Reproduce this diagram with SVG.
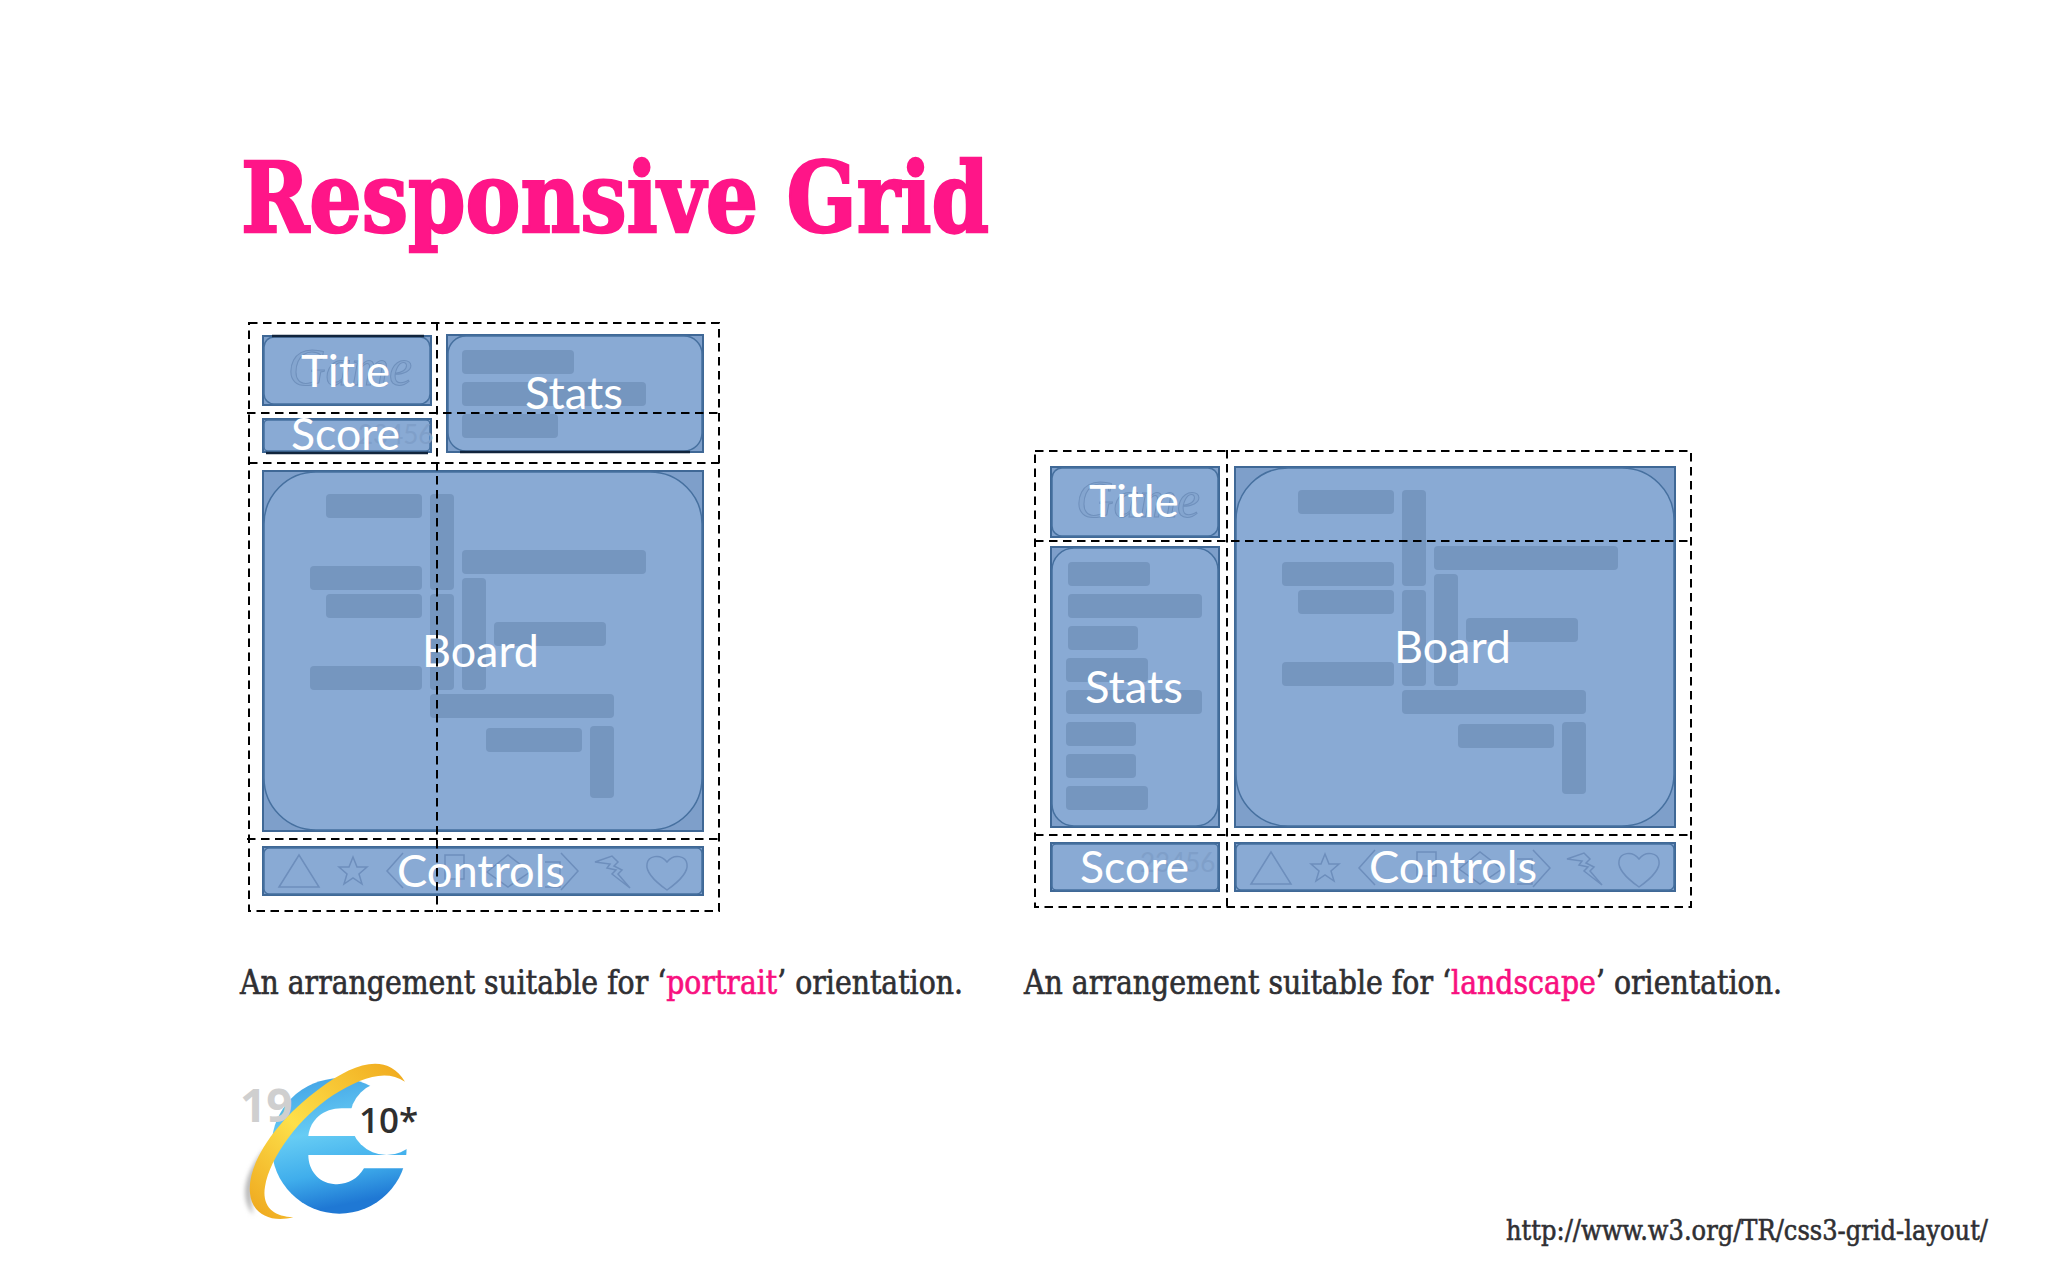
<svg xmlns="http://www.w3.org/2000/svg" width="2048" height="1280" viewBox="0 0 2048 1280">
<style>
.bg{fill:#fff}
.cell{fill:#7e9fca;stroke:#3f6896;stroke-width:2}
.in{fill:#89aad4;stroke:#46709f;stroke-width:1.5}
.bar{fill:#7596bf}
.lbl{font-family:Lato,"Open Sans",sans-serif;font-size:44px;fill:#fff}
.ghost{font-family:"Liberation Serif",serif;font-style:italic;font-size:52px;fill:#84a5cf;stroke:#6f90bc;stroke-width:1}
.ghost2{font-family:Lato,sans-serif;font-size:26px;fill:#7f9fc9}
.dash{fill:none;stroke:#000;stroke-width:2;stroke-dasharray:8.5 5.5}
.ico{fill:none;stroke:#6d8ebc;stroke-width:1.5}
.shade{stroke:#10243c;stroke-width:2.5}
.h{font-family:"DejaVu Serif",serif;font-weight:bold;font-size:98px;fill:#ff1588;stroke:#ff1588;stroke-width:2.5}
.cap{font-family:"DejaVu Serif",serif;font-size:34px;fill:#2f2f33;stroke:#2f2f33;stroke-width:.7}
.pk{fill:#f8107f;stroke:#f8107f}
.url{font-family:"DejaVu Serif",serif;font-size:27px;fill:#2f2f33;stroke:#2f2f33;stroke-width:.6}
</style>
<defs>
<g id="boardBars" class="bar">
<rect x="326" y="494" width="96" height="24" rx="4"/><rect x="430" y="494" width="24" height="96" rx="4"/>
<rect x="310" y="566" width="112" height="24" rx="4"/><rect x="462" y="550" width="184" height="24" rx="4"/>
<rect x="326" y="594" width="96" height="24" rx="4"/><rect x="430" y="594" width="24" height="96" rx="4"/>
<rect x="462" y="578" width="24" height="112" rx="4"/><rect x="494" y="622" width="112" height="24" rx="4"/>
<rect x="310" y="666" width="112" height="24" rx="4"/><rect x="430" y="694" width="184" height="24" rx="4"/>
<rect x="486" y="728" width="96" height="24" rx="4"/><rect x="590" y="726" width="24" height="72" rx="4"/>
</g>
<g id="icons" class="ico">
<path d="M279 887L299 855L319 887Z"/>
<path d="M353 857l4 10h10l-8 7 3 10-9-6-9 6 3-10-8-7h10z"/>
<path d="M403 853L387 871L403 888"/>
<path d="M445 855h19v24h-19z"/>
<path d="M487 872L508 855L530 872L508 887Z"/>
<path d="M561 853L578 871L561 890M545 862h15v25h-15"/>
<path d="M595 862L612 856L618 862L614 866L622 870L618 874L630 888L612 874L616 870L607 868L610 864Z"/>
<path d="M667 890C650 878 646 870 647 864C648 856 660 853 667 862C674 853 686 856 687 864C688 870 684 878 667 890Z"/>
</g>
<linearGradient id="eBlue" x1="0" y1="0" x2="0.2" y2="1">
<stop offset="0" stop-color="#3f9fe4"/><stop offset=".45" stop-color="#66ccf4"/><stop offset=".75" stop-color="#40aeec"/><stop offset="1" stop-color="#1f78d4"/>
</linearGradient>
<linearGradient id="ring" x1="0" y1="1" x2="1" y2="0">
<stop offset="0" stop-color="#eea51c"/><stop offset=".45" stop-color="#fde04a"/><stop offset="1" stop-color="#f0a81c"/>
</linearGradient>
<filter id="blur" x="-30%" y="-30%" width="160%" height="160%"><feGaussianBlur stdDeviation="6"/></filter>
</defs>
<rect class="bg" width="2048" height="1280"/>

<text id="heading" class="h" x="241" y="232" textLength="748" lengthAdjust="spacingAndGlyphs">Responsive Grid</text>

<g id="portrait">
<g id="p-title"><rect class="cell" x="263" y="336" width="168" height="69"/><rect class="in" x="264" y="337" width="166" height="67" rx="10"/><path class="shade" d="M272 336H424"/><text class="ghost" x="288" y="385">Game</text><text class="lbl" x="301" y="387" textLength="89" lengthAdjust="spacingAndGlyphs">Title</text></g>
<g id="p-stats"><rect class="cell" x="447" y="335" width="256" height="117"/><rect class="in" x="448" y="336" width="254" height="115" rx="18"/><g class="bar"><rect x="462" y="350" width="112" height="24" rx="4"/><rect x="462" y="382" width="184" height="24" rx="4"/><rect x="462" y="414" width="96" height="24" rx="4"/></g><path class="shade" d="M460 452H690"/><text class="lbl" x="525" y="409" textLength="98" lengthAdjust="spacingAndGlyphs">Stats</text></g>
<g id="p-score"><rect class="cell" x="263" y="419" width="168" height="33"/><rect class="in" x="264" y="420" width="166" height="31" rx="4"/><path class="shade" d="M266 453H428"/><text class="ghost2" x="358" y="444">23456</text><text class="lbl" x="291" y="450" textLength="109" lengthAdjust="spacingAndGlyphs">Score</text></g>
<g id="p-board"><rect class="cell" x="263" y="471" width="440" height="360"/><rect class="in" x="264" y="472" width="438" height="358" rx="52"/><use href="#boardBars"/><text class="lbl" x="422" y="667" textLength="117" lengthAdjust="spacingAndGlyphs">Board</text></g>
<g id="p-controls"><rect class="cell" x="263" y="847" width="440" height="48"/><rect class="in" x="264" y="848" width="438" height="46" rx="5"/><use href="#icons"/><text class="lbl" x="397" y="887" textLength="168" lengthAdjust="spacingAndGlyphs">Controls</text></g>
</g>

<g id="landscape">
<g id="l-title"><rect class="cell" x="1051" y="467" width="168" height="70"/><rect class="in" x="1052" y="468" width="166" height="68" rx="10"/><text class="ghost" x="1076" y="517">Game</text><text class="lbl" x="1089" y="517" textLength="90" lengthAdjust="spacingAndGlyphs">Title</text></g>
<g id="l-stats"><rect class="cell" x="1051" y="547" width="168" height="280"/><rect class="in" x="1052" y="548" width="166" height="278" rx="22"/><g class="bar"><rect x="1068" y="562" width="82" height="24" rx="4"/><rect x="1068" y="594" width="134" height="24" rx="4"/><rect x="1068" y="626" width="70" height="24" rx="4"/><rect x="1066" y="658" width="82" height="24" rx="4"/><rect x="1066" y="690" width="136" height="24" rx="4"/><rect x="1066" y="722" width="70" height="24" rx="4"/><rect x="1066" y="754" width="70" height="24" rx="4"/><rect x="1066" y="786" width="82" height="24" rx="4"/></g><text class="lbl" x="1085" y="703" textLength="98" lengthAdjust="spacingAndGlyphs">Stats</text></g>
<g id="l-score"><rect class="cell" x="1051" y="843" width="168" height="48"/><rect class="in" x="1052" y="844" width="166" height="46" rx="4"/><text class="ghost2" x="1140" y="872">23456</text><text class="lbl" x="1080" y="883" textLength="109" lengthAdjust="spacingAndGlyphs">Score</text></g>
<g id="l-board"><rect class="cell" x="1235" y="467" width="440" height="360"/><rect class="in" x="1236" y="468" width="438" height="358" rx="52"/><use href="#boardBars" transform="translate(972 -4)"/><text class="lbl" x="1394" y="663" textLength="117" lengthAdjust="spacingAndGlyphs">Board</text></g>
<g id="l-controls"><rect class="cell" x="1235" y="843" width="440" height="48"/><rect class="in" x="1236" y="844" width="438" height="46" rx="5"/><use href="#icons" transform="translate(972 -3)"/><text class="lbl" x="1369" y="883" textLength="168" lengthAdjust="spacingAndGlyphs">Controls</text></g>
</g>

<g id="connectors">
<rect class="dash" x="249" y="323" width="470" height="588"/>
<path class="dash" d="M247 413H719M249 463H719M247 839H719M437 322V912"/>
<rect class="dash" x="1035" y="451" width="656" height="456"/>
<path class="dash" d="M1035 541H1691M1035 835H1691M1227 450V908"/>
</g>

<text class="cap" x="240" y="994" textLength="723" lengthAdjust="spacingAndGlyphs">An arrangement suitable for ‘<tspan class="pk">portrait</tspan>’ orientation.</text>
<text class="cap" x="1024" y="994" textLength="758" lengthAdjust="spacingAndGlyphs">An arrangement suitable for ‘<tspan class="pk">landscape</tspan>’ orientation.</text>

<g id="ie-logo">
<g transform="translate(220 1040) scale(.3333)">
<path d="M130 330C75 400 55 470 100 525C85 450 110 380 150 335Z" fill="#b9b9b9" filter="url(#blur)"/>
<circle cx="358" cy="318" r="203" fill="url(#eBlue)"/>
<path d="M265 288C270 240 310 205 365 205H440L470 288Z" fill="#fff"/>
<path d="M265 345H600V385H432C410 420 380 436 340 432C295 428 265 390 265 345Z" fill="#fff"/>
<circle cx="500" cy="235" r="110" fill="#fff"/>
<path d="M560 290H640V410H560Z" fill="#fff"/>
</g>
<text x="240" y="1122" font-family="'Open Sans',sans-serif" font-weight="bold" font-size="46" fill="#cfcfcf">19</text>
<g transform="translate(220 1040) scale(.3333)">
<path d="M555 125C500 35 400 70 300 145C170 240 80 370 90 460C95 520 150 550 220 532C160 530 125 500 135 440C150 350 240 230 340 165C420 115 495 85 555 125Z" fill="url(#ring)"/>
</g>
<text x="359" y="1133" font-family="'Open Sans',sans-serif" font-weight="600" font-size="35" fill="#2f2f2f">10*</text>
</g>

<text class="url" x="1506" y="1240" textLength="482" lengthAdjust="spacingAndGlyphs">http://www.w3.org/TR/css3-grid-layout/</text>
</svg>
